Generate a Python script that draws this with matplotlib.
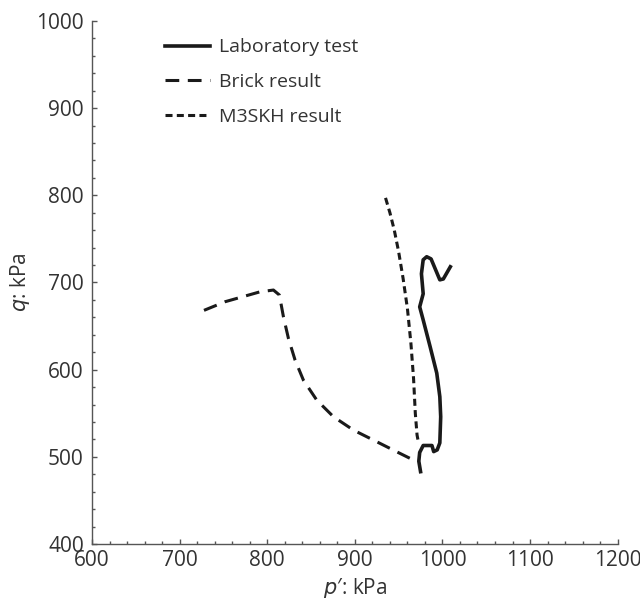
import matplotlib
matplotlib.use("Agg")
import matplotlib.pyplot as plt
from matplotlib.ticker import MultipleLocator

plt.rcParams['font.family'] = ['Open Sans', 'DejaVu Sans']

# laboratory stress path (p', q)
lab_p = [975, 973, 974, 978, 988, 990, 994, 997, 998, 997, 993.5, 986, 978,
         974, 978, 976, 978, 982, 987, 992, 997, 1001, 1005, 1009]
lab_q = [483, 495, 505, 513, 513, 506, 508, 516, 546, 569, 596, 626, 657,
         672, 687, 710, 726, 729.5, 727, 715, 703, 704, 711, 718]

# Brick model
brick_p = [727.7, 751.8, 791.8, 807, 813.8, 818.4, 824.1, 831.7, 841.2, 856.5,
           875.5, 898.3, 925, 947.8, 970.7]
brick_q = [668, 677.9, 689.3, 691.3, 685.6, 660.7, 635.9, 611, 588, 565,
           546, 530.7, 517.3, 505.8, 494.4]

# M3SKH model
m3_p = [935, 940, 945, 950, 955, 960, 964, 967, 969, 971, 972.5]
m3_q = [797, 780, 760, 735, 705, 670, 630, 590, 550, 525, 517]

txt = '#333333'
fig = plt.figure(figsize=(6.4, 6.02), dpi=100)
ax = fig.add_axes([0.144, 0.0963, 0.821, 0.869])

ax.plot(lab_p, lab_q, color='#1a1a1a', lw=2.6, label='Laboratory test')
ax.plot(brick_p, brick_q, color='#1a1a1a', lw=2.2, dashes=(4.5, 2.8), label='Brick result')
ax.plot(m3_p, m3_q, color='#1a1a1a', lw=2.2, dashes=(2.3, 1.4), label='M3SKH result')

ax.set_xlim(600, 1200)
ax.set_ylim(400, 1000)
ax.xaxis.set_major_locator(MultipleLocator(100))
ax.xaxis.set_minor_locator(MultipleLocator(20))
ax.yaxis.set_major_locator(MultipleLocator(100))
ax.yaxis.set_minor_locator(MultipleLocator(20))
ax.tick_params(which='both', direction='in', color='#555555', width=1,
               labelsize=15, labelcolor=txt)
ax.tick_params(axis='x', which='major', pad=4)
ax.tick_params(axis='y', which='major', pad=6)
ax.tick_params(which='major', length=3.4)
ax.tick_params(which='minor', length=2.4)
for s in ['top', 'right']:
    ax.spines[s].set_visible(False)
for s in ['left', 'bottom']:
    ax.spines[s].set_color('#555555')
    ax.spines[s].set_linewidth(1)

ax.set_xlabel("$\\it{p}$′: kPa", fontsize=15, color=txt, labelpad=4)
ax.set_ylabel("$\\it{q}$: kPa", fontsize=15, color=txt, labelpad=3)

leg = ax.legend(loc='upper left', bbox_to_anchor=(0.105, 1.0), frameon=False,
                fontsize=14, handlelength=2.3, labelspacing=0.86, handletextpad=0.5)
for t in leg.get_texts():
    t.set_color(txt)

fig.savefig('out.png', dpi=100)
